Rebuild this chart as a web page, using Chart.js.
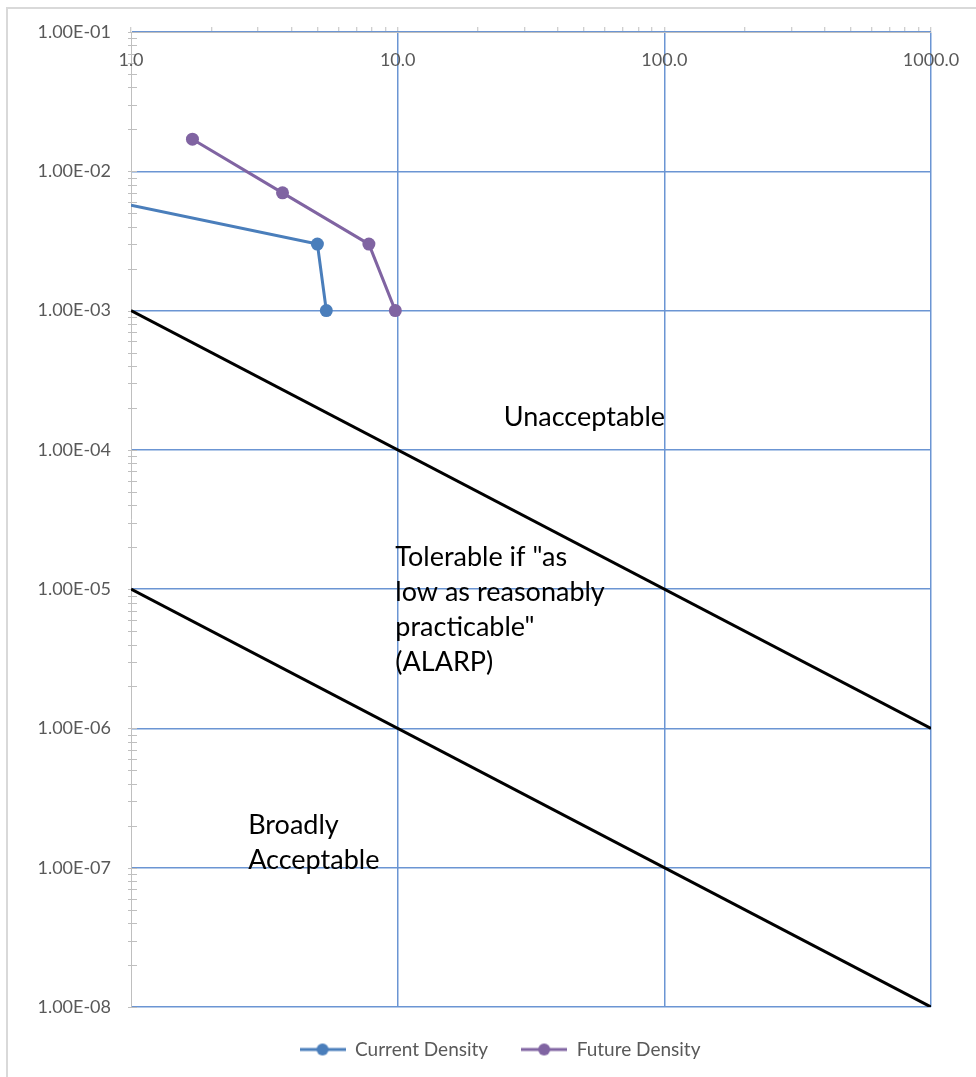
<!DOCTYPE html>
<html>
<head>
<meta charset="utf-8">
<script src="https://cdn.jsdelivr.net/npm/chart.js@4.4.1/dist/chart.umd.min.js"></script>
<style>
  html, body { margin: 0; padding: 0; background: #fff; overflow: hidden; }
  #frame { position: absolute; left: 6px; top: 7px; width: 1000px; height: 1100px; border: 2px solid #d9d9d9; }
  #riskChart { position: absolute; left: 0; top: 0; }
</style>
</head>
<body>
<div id="frame"></div>
<canvas id="riskChart" width="976" height="1077"></canvas>
<script>
// series
const currentX = [1, 5, 5.4];
const currentY = [5.7e-3, 3e-3, 1e-3];
const futureX = [1.7, 3.7, 7.8, 9.8];
const futureY = [1.7e-2, 7e-3, 3e-3, 1e-3];

// criteria lines
const upperX = [1, 1000];
const upperY = [1e-3, 1e-6];
const lowerX = [1, 1000];
const lowerY = [1e-5, 1e-8];

const xTickValues = [1, 10, 100, 1000];
const yTickValues = [1e-8, 1e-7, 1e-6, 1e-5, 1e-4, 1e-3, 1e-2, 1e-1];

const regionNotes = [
  { lines: ['Unacceptable'], x: 25, y: 1.7e-4 },
  { lines: ['Tolerable if "as', 'low as reasonably', 'practicable"', '(ALARP)'], x: 9.8, y: 1.7e-5 },
  { lines: ['Broadly', 'Acceptable'], x: 2.75, y: 2.0e-7 }
];

const blue = '#4a7ebb';
const purple = '#8064a2';
const gridBlue = '#6b95d3';
const axisGray = '#bfbfbf';
const textGray = '#595959';
const fontFamily = 'Lato, "Open Sans", sans-serif';

function toPoints(xs, ys) {
  return xs.map((x, i) => ({ x: x, y: ys[i] }));
}

// Chart.js adds a 1.5x tick per decade; Excel shows only 2..9
function isMinorStep(v) {
  const m = v / Math.pow(10, Math.floor(Math.log10(v) + 1e-9));
  return Math.abs(m - Math.round(m)) < 1e-6;
}

function onList(v, list) {
  return list.some(t => Math.abs(Math.log10(v) - Math.log10(t)) < 1e-6);
}

function sciLabel(v) {
  const e = Math.round(Math.log10(v));
  const m = (v / Math.pow(10, e)).toFixed(2);
  const sign = e < 0 ? '-' : '+';
  return m + 'E' + sign + String(Math.abs(e)).padStart(2, '0');
}

function legendMarker(color) {
  const c = document.createElement('canvas');
  c.width = 46;
  c.height = 14;
  const g = c.getContext('2d');
  g.strokeStyle = color;
  g.lineWidth = 3;
  g.beginPath();
  g.moveTo(0, 7);
  g.lineTo(46, 7);
  g.stroke();
  g.fillStyle = color;
  g.beginPath();
  g.arc(23, 7, 6, 0, Math.PI * 2);
  g.fill();
  return c;
}

const decorations = {
  id: 'decorations',
  beforeDatasetsDraw(chart) {
    const { ctx, scales } = chart;
    const y = scales.y;
    const left = chart.chartArea.left;
    ctx.save();
    ctx.strokeStyle = axisGray;
    ctx.lineWidth = 1;
    y.ticks.forEach(t => {
      if (!isMinorStep(t.value)) return;
      const py = Math.round(y.getPixelForValue(t.value)) + 0.5;
      ctx.beginPath();
      ctx.moveTo(left - 3, py);
      ctx.lineTo(left + 6, py);
      ctx.stroke();
    });
    ctx.fillStyle = textGray;
    ctx.font = '18px ' + fontFamily;
    ctx.textBaseline = 'middle';
    // x labels sit under the top axis line
    ctx.textAlign = 'center';
    xTickValues.forEach(v => {
      ctx.fillText(v.toFixed(1), scales.x.getPixelForValue(v), 60);
    });
    // y labels, Excel scientific format
    ctx.textAlign = 'right';
    yTickValues.forEach(v => {
      ctx.fillText(sciLabel(v), left - 20, y.getPixelForValue(v));
    });
    ctx.restore();
  },
  afterDatasetsDraw(chart) {
    const { ctx, scales } = chart;
    ctx.save();
    ctx.fillStyle = '#000';
    ctx.font = '27px ' + fontFamily;
    ctx.textAlign = 'left';
    ctx.textBaseline = 'middle';
    regionNotes.forEach(n => {
      const px = scales.x.getPixelForValue(n.x);
      const py = scales.y.getPixelForValue(n.y);
      n.lines.forEach((line, i) => ctx.fillText(line, px, py + i * 35));
    });
    ctx.restore();
  }
};

new Chart(document.getElementById('riskChart'), {
  type: 'line',
  data: {
    datasets: [
      {
        label: 'Current Density',
        data: toPoints(currentX, currentY),
        borderColor: blue,
        backgroundColor: blue,
        borderWidth: 3,
        pointRadius: [0, 6.5, 6.5],
        pointBorderWidth: 0,
        order: 1
      },
      {
        label: 'Future Density',
        data: toPoints(futureX, futureY),
        borderColor: purple,
        backgroundColor: purple,
        borderWidth: 3,
        pointRadius: 6.5,
        pointBorderWidth: 0,
        order: 1
      },
      {
        label: 'Upper limit',
        data: toPoints(upperX, upperY),
        borderColor: '#000',
        borderWidth: 3,
        pointRadius: 0,
        order: 2
      },
      {
        label: 'Lower limit',
        data: toPoints(lowerX, lowerY),
        borderColor: '#000',
        borderWidth: 3,
        pointRadius: 0,
        order: 2
      }
    ]
  },
  options: {
    responsive: false,
    animation: false,
    // left padding shifts the legend to where Excel put it
    layout: { padding: { left: 69, top: 0, right: 45, bottom: 8 } },
    scales: {
      x: {
        type: 'logarithmic',
        position: 'top',
        min: 1,
        max: 1000,
        afterFit: s => { s.height = 32; },
        border: { color: axisGray, width: 1 },
        grid: {
          color: c => (c.tick && c.tick.value > 1 && onList(c.tick.value, xTickValues) ? gridBlue : 'rgba(0,0,0,0)'),
          tickColor: c => (c.tick && isMinorStep(c.tick.value) ? axisGray : 'rgba(0,0,0,0)'),
          tickLength: 5,
          tickWidth: 1,
          lineWidth: 1.5
        },
        ticks: { display: false, autoSkip: false }
      },
      y: {
        type: 'logarithmic',
        min: 1e-8,
        max: 1e-1,
        afterFit: s => { s.width = 62; },
        border: { color: axisGray, width: 1 },
        grid: {
          color: c => (c.tick && onList(c.tick.value, yTickValues) ? gridBlue : 'rgba(0,0,0,0)'),
          drawTicks: false,
          lineWidth: 1.5
        },
        ticks: { display: false, autoSkip: false }
      }
    },
    plugins: {
      legend: {
        position: 'bottom',
        labels: {
          filter: item => item.datasetIndex < 2,
          usePointStyle: true,
          pointStyleWidth: 46,
          generateLabels: chart => chart.data.datasets.map((d, i) => ({
            text: d.label,
            datasetIndex: i,
            pointStyle: legendMarker(d.borderColor),
            fontColor: textGray,
            lineWidth: 0,
            strokeStyle: 'transparent',
            fillStyle: d.borderColor
          })),
          color: textGray,
          padding: 33,
          font: { family: fontFamily, size: 19 }
        }
      },
      tooltip: { enabled: false }
    }
  },
  plugins: [decorations]
});
</script>
</body>
</html>
